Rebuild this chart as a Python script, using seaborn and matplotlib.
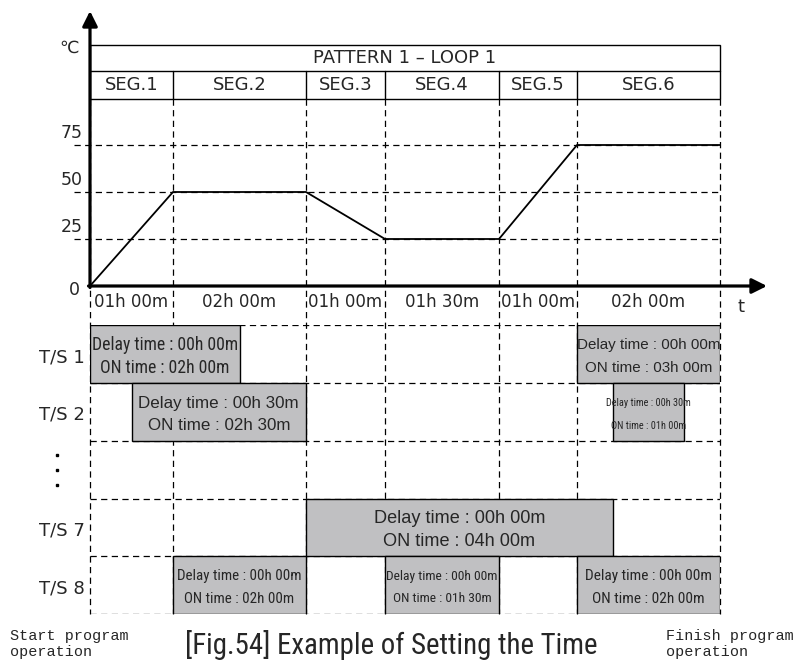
import numpy as np
import pandas as pd
import matplotlib
matplotlib.use("Agg")
import matplotlib.pyplot as plt
import seaborn as sns
from matplotlib import font_manager
from matplotlib.font_manager import FontProperties
from matplotlib.patches import Rectangle
from matplotlib.transforms import blended_transform_factory as blend

# program segments
seg_names = ["SEG.1", "SEG.2", "SEG.3", "SEG.4", "SEG.5", "SEG.6"]
seg_hours = [1.0, 2.0, 1.0, 1.5, 1.0, 2.0]
seg_time_labels = ["01h 00m", "02h 00m", "01h 00m", "01h 30m", "01h 00m", "02h 00m"]
seg_target = [50, 50, 25, 25, 75, 75]
start_temp = 0
temp_ticks = [0, 25, 50, 75]
pattern_title = "PATTERN 1 \u2013 LOOP 1"

# time signals
ts_labels = ["T/S 1", "T/S 2", "", "T/S 7", "T/S 8"]
ts_row = [0, 0, 1, 1, 3, 4, 4, 4]
ts_start_seg = [0, 5, 0, 5, 2, 1, 3, 5]
ts_delay = [0, 0, 0.5, 0.5, 0, 0, 0, 0]
ts_on = [2, 3, 2.5, 1, 4, 2, 1.5, 2]

# layout (pixels of the 794x661 picture)
W, H = 794, 661
edge_px = [90, 173, 306, 385, 499, 577, 720]
bar_text_px = [145, 143, 161, 84, 171, 124, 111, 127]   # width of the text in each bar
bar_narrow = [True, False, False, True, False, True, True, True]


def fx(p):
    return p / W


def fy(p):
    return 1 - p / H


edges_h = np.concatenate([[0], np.cumsum(seg_hours)])
end_h = edges_h[-1]


def fwd(x):
    x = np.asarray(x, dtype=float)
    y = np.interp(x, edges_h, edge_px)
    y = np.where(x < 0, edge_px[0] + x * 83, y)
    y = np.where(x > end_h, edge_px[-1] + (x - end_h) * 71.5, y)
    return y


def inv(p):
    p = np.asarray(p, dtype=float)
    y = np.interp(p, edge_px, edges_h)
    y = np.where(p < edge_px[0], (p - edge_px[0]) / 83, y)
    y = np.where(p > edge_px[-1], end_h + (p - edge_px[-1]) / 71.5, y)
    return y


def hm(h):
    return f"{int(h):02d}h {int(round((h % 1) * 60)):02d}m"


def find_narrow():
    prefs = ["Liberation Sans Narrow", "Roboto Condensed", "Open Sans Condensed",
             "DejaVu Sans Condensed", "Noto Sans Condensed"]
    fl = [f for f in font_manager.fontManager.ttflist
          if f.style == "normal" and f.weight in (400, "normal", "regular")]
    for p in prefs:
        for f in fl:
            if f.name == p:
                return f.fname
    for f in fl:
        st = str(f.stretch)
        if ("condensed" in st or "Condensed" in f.fname or "Narrow" in f.fname) \
                and "Mono" not in f.name and "Serif" not in f.name and "CJK" not in f.name:
            return f.fname
    return None


sns.set_theme(style="white")
plt.rcParams["font.family"] = ["DejaVu Sans"]

narrow_file = find_narrow()


def bar_font(is_narrow):
    if is_narrow and narrow_file:
        return FontProperties(fname=narrow_file)
    return FontProperties(family="Liberation Sans")


fig = plt.figure(figsize=(W / 100, H / 100), dpi=100)
fig.patch.set_facecolor("white")

ax_t = fig.add_axes([fx(90), fy(286), fx(720) - fx(90), fy(145) - fy(286)])
ax_s = fig.add_axes([fx(90), fy(614), fx(720) - fx(90), fy(325.5) - fy(614)], sharex=ax_t)
for ax in (ax_t, ax_s):
    ax.set_xscale("function", functions=(fwd, inv))
    ax.axis("off")
    ax.patch.set_visible(False)
ax_t.set_xlim(0, end_h)
ax_t.set_ylim(0, 75)
ax_s.set_ylim(5, 0)

dash = (0, (5, 3.5))
tr_xfig = blend(ax_t.transData, fig.transFigure)

# temperature profile
profile = pd.DataFrame({"hours": edges_h, "temp": [start_temp] + seg_target})
sns.lineplot(data=profile, x="hours", y="temp", ax=ax_t, color="black", lw=1.3,
             clip_on=False, zorder=3)

# temperature grid and labels
tr_yfig = blend(fig.transFigure, ax_t.transData)
for v in temp_ticks:
    if v > 0:
        ax_t.plot([fx(74), fx(720)], [v, v], transform=tr_yfig, color="black",
                  lw=0.9, ls=dash, clip_on=False, zorder=1)
        ax_t.annotate(str(v), xy=(0, v), xytext=(-7, 12), textcoords="offset pixels",
                      ha="right", va="center", fontsize=12.5, annotation_clip=False)
    else:
        ax_t.annotate(str(v), xy=(0, v), xytext=(-10, -4), textcoords="offset pixels",
                      ha="right", va="center", fontsize=12.5, annotation_clip=False)

# vertical dashed segment lines
for h in edges_h:
    ax_t.plot([h, h], [fy(99), fy(614)], transform=tr_xfig, color="black", lw=0.9,
              ls=dash, clip_on=False, zorder=1)

# header box
ax_t.add_patch(Rectangle((0, fy(99)), end_h, fy(45) - fy(99), transform=tr_xfig,
                         fill=False, lw=1, edgecolor="black", clip_on=False))
ax_t.plot([0, end_h], [fy(71), fy(71)], transform=tr_xfig, color="black", lw=1, clip_on=False)
for h in edges_h[1:-1]:
    ax_t.plot([h, h], [fy(99), fy(71)], transform=tr_xfig, color="black", lw=1, clip_on=False)
ax_t.text(0.5, fy(58), pattern_title, transform=blend(ax_t.transAxes, fig.transFigure),
          ha="center", va="center", fontsize=13)
for name, tl, a, b in zip(seg_names, seg_time_labels, edges_h[:-1], edges_h[1:]):
    mid = (a + b) / 2
    ax_t.text(mid, fy(85), name, transform=tr_xfig, ha="center", va="center", fontsize=13)
    ax_t.text(mid, fy(302), tl, transform=tr_xfig, ha="center", va="center", fontsize=12)

# axes with arrows
arrow = dict(arrowstyle="-|>,head_length=0.6,head_width=0.3", lw=2.3, color="black",
             mutation_scale=15, shrinkA=0, shrinkB=0)
fig.add_artist(plt.Annotation("", xy=(fx(90), fy(11)), xytext=(fx(90), fy(287.5)),
                              xycoords="figure fraction", arrowprops=arrow))
fig.add_artist(plt.Annotation("", xy=(fx(767), fy(286)), xytext=(fx(88.5), fy(286)),
                              xycoords="figure fraction", arrowprops=arrow))
fig.text(fx(69), fy(48), "\u2103", ha="center", va="center", fontsize=12.5)
fig.text(fx(741), fy(307), "t", ha="center", va="center", fontsize=13)

# time signal rows
for r in range(6):
    ax_s.plot([0, end_h], [r, r], color="black", lw=0.9, ls=dash, zorder=1)
for r, lab in enumerate(ts_labels):
    if lab:
        ax_s.annotate(lab, xy=(0, r + 0.55), xytext=(-5, 0), textcoords="offset pixels",
                      ha="right", va="center", fontsize=13, annotation_clip=False)
tr_dots = blend(fig.transFigure, ax_s.transData)
ax_s.plot([fx(57)] * 3, [2.24, 2.5, 2.76], transform=tr_dots, ls="none", marker="s",
          ms=1.8, color="black", clip_on=False)

# bars
bar_texts = []
for i in range(len(ts_row)):
    start = edges_h[ts_start_seg[i]] + ts_delay[i]
    stop = min(start + ts_on[i], end_h)
    ax_s.barh(ts_row[i] + 0.5, stop - start, left=start, height=1, color="#c0c0c2",
              edgecolor="black", lw=1, zorder=3)
    mid = float(inv((fwd(start) + fwd(stop)) / 2))
    lines = [f"Delay time : {hm(ts_delay[i])}", f"ON time : {hm(ts_on[i])}"]
    pair = []
    for ln, dy in zip(lines, [0.345, 0.735]):
        t = ax_s.text(mid, ts_row[i] + dy, ln, ha="center", va="center",
                      fontproperties=bar_font(bar_narrow[i]), fontsize=12, zorder=4)
        pair.append(t)
    bar_texts.append(pair)

# fit bar texts to the widths seen in the picture
fig.canvas.draw()
rend = fig.canvas.get_renderer()
for pair, target in zip(bar_texts, bar_text_px):
    w = max(t.get_window_extent(rend).width for t in pair)
    size = min(12 * target / w, 14)
    for t in pair:
        t.set_fontsize(size)

# footer texts
fig.text(fx(10), fy(629), "Start program\noperation", family="Liberation Mono",
         fontsize=10.9, va="top", ha="left", linespacing=1.2)
fig.text(fx(666), fy(629), "Finish program\noperation", family="Liberation Mono",
         fontsize=10.9, va="top", ha="left", linespacing=1.2)
cap = fig.text(fx(391), fy(654), "[Fig.54] Example of Setting the Time",
               fontproperties=bar_font(True), fontsize=18, ha="center", va="baseline")
fig.canvas.draw()
cw = cap.get_window_extent(rend).width
cap.set_fontsize(min(18 * 413 / cw, 22))

fig.savefig("out.png", dpi=100, facecolor="white")
